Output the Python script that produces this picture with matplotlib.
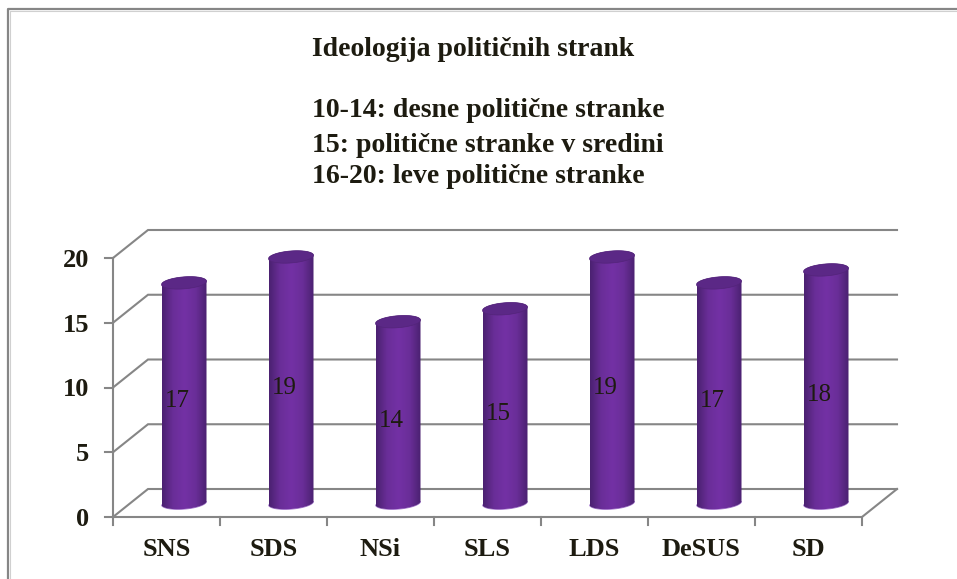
import matplotlib
matplotlib.use("Agg")
import matplotlib.pyplot as plt
import numpy as np
from matplotlib.colors import LinearSegmentedColormap
from matplotlib.patches import Polygon

plt.rcParams['font.family'] = ['Liberation Serif', 'DejaVu Serif']

# podatki
stranke = ["SNS", "SDS", "NSi", "SLS", "LDS", "DeSUS", "SD"]
vrednosti = [17, 19, 14, 15, 19, 17, 18]
y_oznake = [0, 5, 10, 15, 20]
naslov = ["Ideologija političnih strank", "10-14: desne politične stranke",
          "15: politične stranke v sredini", "16-20: leve politične stranke"]

W, H = 957, 579
# merilo: pixli na kategorijo in na enoto, izhodisce je sredina prve palice
sx = 107.0
sy = 12.95
x0 = 184.0
y0 = 503.0
# globina 3d stene (od sredine do sprednje/zadnje ravnine)
dx = 17.5 / sx
dy = 14.0 / sy
pol_s = 22.5 / sx   # polovica sirine palice
pol_v = 6.0 / sy    # polovica visine elipse
nagib = 1.7 / sy    # nagib elipse

fig = plt.figure(figsize=(W / 100, H / 100), dpi=100)
ax = fig.add_axes([0, 0, 1, 1])
xlim = (-x0 / sx, (W - x0) / sx)
ylim = ((y0 - H) / sy, y0 / sy)
ax.axis("off")

siva = "#868686"
lw = 1.5
tekst = "#1d1b10"
n = len(stranke)
xl = -0.5 - dx
xr = n - 0.5 - dx

# okvir grafa
ax.plot([xlim[0] + 8 / sx, xlim[0] + 8 / sx, xlim[1]], [ylim[0], ylim[1] - 9 / sy, ylim[1] - 9 / sy],
        color=siva, lw=1.6, zorder=1)
ax.plot([xlim[0] + 10 / sx, xlim[0] + 10 / sx, xlim[1]], [ylim[0], ylim[1] - 10.5 / sy, ylim[1] - 10.5 / sy],
        color="#d0d0d0", lw=0.8, zorder=1)

# mreza: stranska stena in zadnja stena
for v in y_oznake:
    ax.plot([xl, xl + 2 * dx, xr + 2 * dx], [v - dy, v + dy, v + dy], color=siva, lw=lw, zorder=2,
            solid_joinstyle="miter")
    ax.plot([xl - 8 / sx, xl], [v - dy, v - dy], color=siva, lw=lw, zorder=2)
    ax.text(xl - 24 / sx, v - dy, str(v), ha="right", va="center_baseline", fontsize=19, fontweight="bold",
            color=tekst)

# os y, tla in kljukice
ax.plot([xl, xl], [y_oznake[0] - dy, y_oznake[-1] - dy], color=siva, lw=lw, zorder=2)
ax.plot([xl, xr, xr + 2 * dx], [-dy, -dy, dy], color=siva, lw=lw, zorder=2, solid_joinstyle="miter")
for i in range(n + 1):
    ax.plot([xl + i, xl + i], [-dy, -dy - 8 / sy], color=siva, lw=lw, zorder=2)

# palice - valj z gradientom
cmap = LinearSegmentedColormap.from_list("valj", ["#4a2170", "#6a2e98", "#7331a5", "#6a2e98", "#4a2170"])
grad = np.linspace(0, 1, 256).reshape(1, -1)
t = np.linspace(0, 2 * np.pi, 120)
for i, v in enumerate(vrednosti):
    ex = i + pol_s * np.cos(t)
    # spodnji rob in zgornji rob valja
    t_sp = np.linspace(np.pi, 2 * np.pi, 60)
    t_zg = np.linspace(0, np.pi, 60)
    sp = np.column_stack([i + pol_s * np.cos(t_sp), pol_v * np.sin(t_sp) + nagib * np.cos(t_sp)])
    zg = np.column_stack([i + pol_s * np.cos(t_zg), v + pol_v * np.sin(t_zg) + nagib * np.cos(t_zg)])
    obris = Polygon(np.vstack([sp, zg]), closed=True, transform=ax.transData, fc="none", ec="none")
    ax.add_patch(obris)
    ax.plot(sp[:, 0], sp[:, 1] - 0.2 / sy, color="#a77bd0", lw=0.6, zorder=3)
    img = ax.imshow(grad, cmap=cmap, aspect="auto", extent=(i - pol_s, i + pol_s, -pol_v * 2, v + pol_v * 2),
                    zorder=4, interpolation="bilinear")
    img.set_clip_path(obris)
    # pokrov
    ey = v + pol_v * np.sin(t) + nagib * np.cos(t)
    ax.fill(ex, ey, color="#5b2886", ec="#53247a", lw=0.5, zorder=5)
    ax.annotate(str(v), (i, v / 2), xytext=(-5, -6), textcoords="offset points", ha="center", va="center",
                fontsize=18, color=tekst, zorder=6)

# oznake kategorij
for i, s in enumerate(stranke):
    ax.text(i - dx, (y0 - 550) / sy, s, ha="center", va="center", fontsize=19, fontweight="bold", color=tekst)

# naslov
for vrstica, py in zip(naslov, [50, 111, 145, 177]):
    ax.text((312 - x0) / sx, (y0 - py) / sy, vrstica, ha="left", va="center", fontsize=20, fontweight="bold",
            color=tekst)

ax.set_xlim(xlim)
ax.set_ylim(ylim)
fig.savefig("out.png", dpi=100)
